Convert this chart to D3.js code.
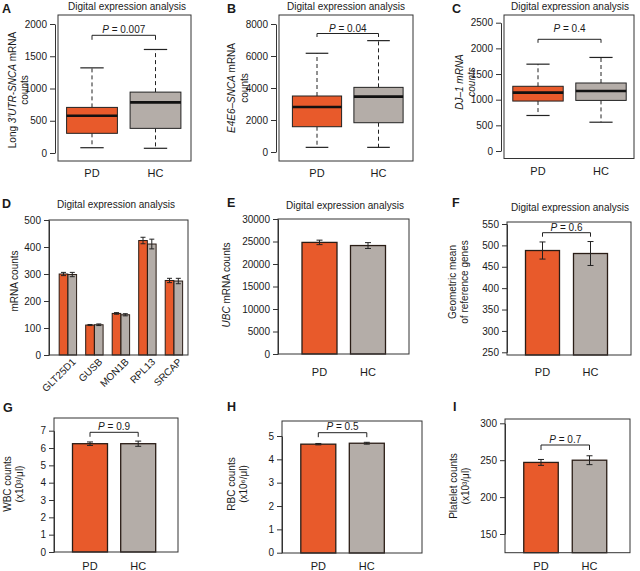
<!DOCTYPE html>
<html><head><meta charset="utf-8">
<script src="https://cdn.jsdelivr.net/npm/d3@7"></script>
<style>body{margin:0;background:#fff}svg{display:block}text{font-family:"Liberation Sans",Arial,sans-serif;fill:#1a1a1a}</style>
</head><body>
<script>
// ---------------- DATA ----------------
const groups = ["PD", "HC"];
// box stats: [min, q1, median, q3, max]
const longUtrPD = [82, 305, 577, 707, 1320];
const longUtrHC = [73, 382, 785, 944, 1605];
const e4e6PD = [290, 1580, 2810, 3500, 6170];
const e4e6HC = [290, 1830, 3460, 4040, 6960];
const dj1PD = [692, 973, 1137, 1261, 1692];
const dj1HC = [561, 986, 1169, 1325, 1823];
const ticksA = [0, 500, 1000, 1500, 2000];
const ticksB = [0, 2000, 4000, 6000, 8000];
const ticksC = [0, 500, 1000, 1500, 2000, 2500];

const refGenes = ["GLT25D1", "GUSB", "MON1B", "RPL13", "SRCAP"];
const refPD = [300, 111, 154, 424, 276];
const refPDerr = [6, 2, 3, 12, 8];
const refHC = [298, 112, 149, 411, 274];
const refHCerr = [8, 3, 4, 18, 10];
const ticksD = [0, 100, 200, 300, 400, 500];

const ubcMean = [24800, 24100];
const ubcErr = [500, 650];
const ticksE = [0, 5000, 10000, 15000, 20000, 25000, 30000];

const geoMean = [488, 481];
const geoErr = [20, 28];
const ticksF = [250, 300, 350, 400, 450, 500, 550];

const wbcMean = [6.25, 6.25];
const wbcErr = [0.1, 0.15];
const ticksG = [0, 1, 2, 3, 4, 5, 6, 7];

const rbcMean = [4.65, 4.69];
const rbcErr = [0.03, 0.04];
const ticksH = [0, 1, 2, 3, 4, 5];

const pltMean = [247, 250];
const pltErr = [4, 6];
const ticksI = [150, 200, 250, 300];

const pValA = "0.007", pValB = "0.04", pValC = "0.4", pValF = "0.6",
      pValG = "0.9", pValH = "0.5", pValI = "0.7";
const titleText = "Digital expression analysis";

// ---------------- STYLE ----------------
const colors = {PD: "#e85a2b", HC: "#b4ada8"};
const INK = "#222";
const svg = d3.select("body").append("svg").attr("width", 640).attr("height", 571);

function letter(txt, x, y) {
  svg.append("text").attr("x", x).attr("y", y).attr("font-size", 12.5)
    .attr("font-weight", "bold").text(txt);
}
function title(cx, y) {
  svg.append("text").attr("x", cx).attr("y", y).attr("text-anchor", "middle")
    .attr("font-size", 10).text(titleText);
}
// lines: [{x, segs:[[text, italic]]}]
function yLabel(cy, lines) {
  lines.forEach(l => {
    const t = svg.append("text")
      .attr("transform", `translate(${l.x},${cy}) rotate(-90)`)
      .attr("text-anchor", "middle").attr("dy", "0.35em").attr("font-size", 10);
    l.segs.forEach(s => t.append("tspan").attr("font-style", s[1] ? "italic" : "normal").text(s[0]));
  });
}
function frame(f) {
  svg.append("rect").attr("x", f.l).attr("y", f.t).attr("width", f.r - f.l)
    .attr("height", f.b - f.t).attr("fill", "none").attr("stroke", "#333").attr("stroke-width", 1);
}
function yAxis(y, ticks, x) {
  const g = svg.append("g").attr("transform", `translate(${x},0)`)
    .call(d3.axisLeft(y).tickValues(ticks).tickFormat(d3.format("d")).tickSize(5).tickSizeOuter(0).tickPadding(3));
  g.selectAll("path,line").attr("stroke", "#333");
  g.selectAll("text").attr("font-size", 10).attr("font-family", '"Liberation Sans",Arial,sans-serif').attr("fill", INK);
}
function pBracket(x1, x2, yl, drop, ty, p) {
  svg.append("path").attr("d", `M${x1},${yl + drop}V${yl}H${x2}V${yl + drop}`)
    .attr("fill", "none").attr("stroke", INK).attr("stroke-width", 1);
  const t = svg.append("text").attr("x", (x1 + x2) / 2).attr("y", ty).attr("text-anchor", "middle").attr("font-size", 10);
  t.append("tspan").attr("font-style", "italic").text("P");
  t.append("tspan").text(" = " + p);
}
function groupLabels(xs, y) {
  groups.forEach((gname, i) => svg.append("text").attr("x", xs[i]).attr("y", y)
    .attr("text-anchor", "middle").attr("font-size", 11).text(gname));
}

// ---------------- BOX PANELS ----------------
function boxPanel(cfg) {
  const f = cfg.frame;
  frame(f);
  const y = d3.scaleLinear().domain(d3.extent(cfg.ticks)).range(cfg.yRange);
  yAxis(y, cfg.ticks, f.l - 3);
  const x = d3.scaleLinear().domain([0.5, 2.5]).range(cfg.xRange);
  const unit = x(1) - x(0), bw = unit * 0.8;
  const stats = [cfg.pd, cfg.hc];
  groups.forEach((gname, i) => {
    const s = stats[i], c = x(i + 1);
    const g = svg.append("g");
    g.append("line").attr("x1", c).attr("x2", c).attr("y1", y(s[3])).attr("y2", y(s[4]))
      .attr("stroke", INK).attr("stroke-dasharray", "4,3");
    g.append("line").attr("x1", c).attr("x2", c).attr("y1", y(s[1])).attr("y2", y(s[0]))
      .attr("stroke", INK).attr("stroke-dasharray", "4,3");
    [s[0], s[4]].forEach(v => g.append("line").attr("x1", c - bw * 0.23).attr("x2", c + bw * 0.23)
      .attr("y1", y(v)).attr("y2", y(v)).attr("stroke", INK).attr("stroke-width", 1.2));
    g.append("rect").attr("x", c - bw / 2).attr("y", y(s[3])).attr("width", bw)
      .attr("height", y(s[1]) - y(s[3])).attr("fill", colors[gname]).attr("stroke", INK).attr("stroke-width", 1);
    g.append("line").attr("x1", c - bw / 2).attr("x2", c + bw / 2).attr("y1", y(s[2])).attr("y2", y(s[2]))
      .attr("stroke", "#111").attr("stroke-width", 2.6);
  });
  pBracket(x(1), x(2), cfg.br[0], cfg.br[1], cfg.br[2], cfg.p);
  groupLabels([x(1), x(2)], cfg.labY);
}

boxPanel({frame: {l: 58, t: 15, r: 191, b: 161}, ticks: ticksA, yRange: [153, 24],
  xRange: [60.25, 187.25], pd: longUtrPD, hc: longUtrHC, br: [35.3, 4.5, 32.5], p: pValA, labY: 177});
boxPanel({frame: {l: 279, t: 15, r: 413, b: 161}, ticks: ticksB, yRange: [152, 24],
  xRange: [286.25, 409.25], pd: e4e6PD, hc: e4e6HC, br: [33.5, 3.5, 31.5], p: pValB, labY: 177});
boxPanel({frame: {l: 504, t: 15, r: 634, b: 158.5}, ticks: ticksC, yRange: [151, 22.7],
  xRange: [506.5, 632.5], pd: dj1PD, hc: dj1HC, br: [39.3, 3.5, 31.5], p: pValC, labY: 175});

letter("A", 2, 13); letter("B", 227, 13); letter("C", 452, 13);
title(127, 9.5); title(346, 9.5); title(570, 9.5);
yLabel(90, [{x: 12.5, segs: [["Long ", 0], ["3′UTR-SNCA", 1], [" mRNA", 0]]}, {x: 24.5, segs: [["counts", 0]]}]);
yLabel(88, [{x: 231.5, segs: [["E4E6–SNCA", 1], [" mRNA", 0]]}, {x: 244, segs: [["counts", 0]]}]);
yLabel(82, [{x: 459, segs: [["DJ–1 mRNA", 1]]}, {x: 471.5, segs: [["counts", 1]]}]);

// ---------------- BAR PANELS ----------------
function errBar(c, yTop, yBot, capW) {
  const g = svg.append("g").attr("stroke", INK).attr("stroke-width", 1);
  g.append("line").attr("x1", c).attr("x2", c).attr("y1", yTop).attr("y2", yBot);
  g.append("line").attr("x1", c - capW / 2).attr("x2", c + capW / 2).attr("y1", yTop).attr("y2", yTop);
  g.append("line").attr("x1", c - capW / 2).attr("x2", c + capW / 2).attr("y1", yBot).attr("y2", yBot);
}
function barPanel(cfg) {
  const f = cfg.frame;
  const y = d3.scaleLinear().domain(d3.extent(cfg.ticks)).range(cfg.yRange);
  const x = d3.scalePoint().domain(groups).range(cfg.centers);
  groups.forEach((gname, i) => {
    const c = x(gname), v = cfg.mean[i], e = cfg.err[i];
    svg.append("rect").attr("x", c - cfg.bw / 2).attr("y", y(v)).attr("width", cfg.bw)
      .attr("height", f.b - y(v)).attr("fill", colors[gname]).attr("stroke", "#2a1d16").attr("stroke-width", 1.3);
    errBar(c, y(v + e), y(v - e), 6);
  });
  frame(f);
  yAxis(y, cfg.ticks, f.l);
  if (cfg.br) pBracket(x("PD"), x("HC"), cfg.br[0], cfg.br[1], cfg.br[2], cfg.p);
  groupLabels(cfg.centers, cfg.labY);
}

// D: reference genes grouped bars
(function () {
  const f = {l: 49, t: 220, r: 188, b: 355};
  const y = d3.scaleLinear().domain(d3.extent(ticksD)).range([355, 220]);
  const x0 = d3.scaleBand().domain(refGenes).range([53.7, 188.1]).paddingInner(0.33).paddingOuter(0.2);
  const x1 = d3.scaleBand().domain(groups).range([0, x0.bandwidth()]).padding(0.02);
  const vals = {PD: refPD, HC: refHC}, errs = {PD: refPDerr, HC: refHCerr};
  refGenes.forEach((gene, j) => {
    groups.forEach(gname => {
      const bx = x0(gene) + x1(gname), v = vals[gname][j], e = errs[gname][j];
      svg.append("rect").attr("x", bx).attr("y", y(v)).attr("width", x1.bandwidth())
        .attr("height", f.b - y(v)).attr("fill", colors[gname]).attr("stroke", "#2a1d16").attr("stroke-width", 1);
      errBar(bx + x1.bandwidth() / 2, y(v + e), y(v - e), 5);
    });
    svg.append("text").attr("transform", `translate(${x0(gene) + x0.bandwidth() / 2 + 6},360) rotate(-45)`)
      .attr("text-anchor", "end").attr("dy", "0.35em").attr("font-size", 10).text(gene);
  });
  frame(f);
  yAxis(y, ticksD, f.l);
})();
letter("D", 2, 208); title(116, 208);
yLabel(281, [{x: 14, segs: [["mRNA counts", 0]]}]);

barPanel({frame: {l: 278, t: 219, r: 409, b: 354}, ticks: ticksE, yRange: [354, 219],
  centers: [319.5, 368], bw: 35, mean: ubcMean, err: ubcErr, labY: 376});
letter("E", 227, 207); title(345, 209);
yLabel(285, [{x: 226, segs: [["UBC", 1], [" mRNA counts", 0]]}]);

barPanel({frame: {l: 507, t: 222, r: 631, b: 355}, ticks: ticksF, yRange: [352.3, 224],
  centers: [542.5, 590.5], bw: 34, mean: geoMean, err: geoErr, br: [232.7, 4, 230.5], p: pValF, labY: 376});
letter("F", 452, 207); title(570, 211);
yLabel(282, [{x: 452.5, segs: [["Geometric mean", 0]]}, {x: 464.5, segs: [["of reference genes", 0]]}]);

barPanel({frame: {l: 54, t: 418, r: 178, b: 552}, ticks: ticksG, yRange: [552, 430.7],
  centers: [90, 138.2], bw: 35, mean: wbcMean, err: wbcErr, br: [432.3, 4.5, 430], p: pValG, labY: 569.5});
letter("G", 3, 412);
yLabel(484, [{x: 7.5, segs: [["WBC counts", 0]]}, {x: 19.5, segs: [["(x10³/μl)", 0]]}]);

barPanel({frame: {l: 282, t: 421, r: 422, b: 553}, ticks: ticksH, yRange: [552.7, 436],
  centers: [318.3, 366.8], bw: 35, mean: rbcMean, err: rbcErr, br: [432.7, 4.5, 430], p: pValH, labY: 569.5});
letter("H", 227, 411);
yLabel(484, [{x: 231.5, segs: [["RBC counts", 0]]}, {x: 243.5, segs: [["(x10⁶/μl)", 0]]}]);

barPanel({frame: {l: 505, t: 419, r: 630, b: 552.7}, ticks: ticksI, yRange: [534, 423.3],
  centers: [541, 589.5], bw: 34.5, mean: pltMean, err: pltErr, br: [445, 5, 442.5], p: pValI, labY: 569.5});
letter("I", 453, 411);
yLabel(486, [{x: 453, segs: [["Platelet counts", 0]]}, {x: 465, segs: [["(x10³/μl)", 0]]}]);
</script>
</body></html>
